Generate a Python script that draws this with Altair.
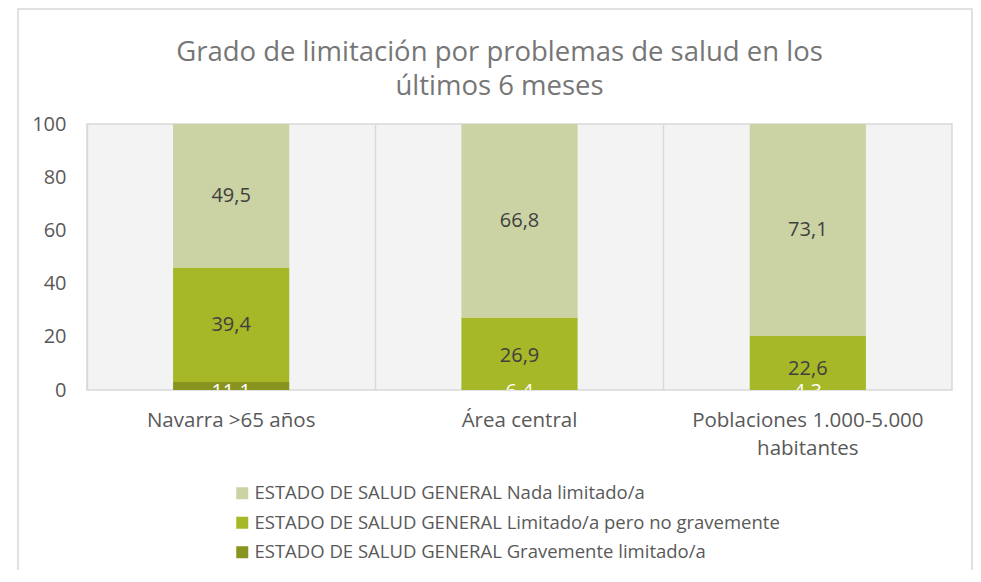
import altair as alt
import pandas as pd

# ---- data ----
categorias = ["Navarra >65 años", "Área central", "Poblaciones 1.000-5.000 habitantes"]
series = [
    "ESTADO DE SALUD GENERAL Nada limitado/a",
    "ESTADO DE SALUD GENERAL Limitado/a pero no gravemente",
    "ESTADO DE SALUD GENERAL Gravemente limitado/a",
]
nada = [49.5, 66.8, 73.1]
limitado = [39.4, 26.9, 22.6]
grave = [11.1, 6.4, 4.3]
y_ticks = [0, 20, 40, 60, 80, 100]
colores = ["#cbd3a4", "#a6b728", "#899420"]

rows = []
for i, c in enumerate(categorias):
    for s, vals, o in [(series[2], grave, 1), (series[1], limitado, 2), (series[0], nada, 3)]:
        rows.append(dict(cat=c, serie=s, valor=vals[i], orden=o,
                         etiqueta=f"{vals[i]:.1f}".replace(".", ",")))
df = pd.DataFrame(rows)

FONT = "Open Sans"
GRID = "#d9d9d9"
TXT = "#595959"

# the reference plot area is cut off near the bottom: bars scale starts above zero
ybar = alt.Scale(domain=[8.3, 100], zero=False, nice=False)

x_enc = alt.X(
    "cat:N", sort=categorias,
    scale=alt.Scale(paddingInner=0, paddingOuter=0),
    axis=alt.Axis(title=None, labelAngle=0, labelFontSize=20.5, labelColor=TXT, labelFont=FONT,
                  labelPadding=20, ticks=False, tickSize=0, domain=False, grid=True,
                  gridColor=GRID, gridWidth=1.5, bandPosition=0, labelLimit=400,
                  labelLineHeight=28,
                  labelExpr="datum.value == 'Poblaciones 1.000-5.000 habitantes' ? "
                            "['Poblaciones 1.000-5.000', 'habitantes'] : datum.value"),
)

base = alt.Chart(df).transform_stack(
    stack="valor", as_=["y0", "y1"], groupby=["cat"],
    sort=[alt.SortField("orden", order="ascending")],
).transform_calculate(mid="(datum.y0 + datum.y1) / 2")

bars = base.mark_bar(width=alt.RelativeBandSize(0.403), clip=True).encode(
    x=x_enc,
    y=alt.Y("y0:Q", scale=ybar,
            axis=alt.Axis(title=None, labels=False, ticks=False, domain=False, grid=True,
                          values=[20, 40, 60, 80], gridColor=GRID, gridWidth=1.5)),
    y2="y1:Q",
    color=alt.Color("serie:N", scale=alt.Scale(domain=series, range=colores),
                    legend=alt.Legend(title=None, orient="none", legendX=146, legendY=360,
                                      symbolType="square", symbolSize=144, symbolStrokeWidth=0,
                                      labelFontSize=18.5, labelFont=FONT, labelColor=TXT,
                                      labelLimit=700, rowPadding=10.5, labelOffset=3,
                                      direction="vertical")),
)

txt_main = base.transform_filter("datum.orden > 1").mark_text(
    clip=True, fontSize=20, font=FONT, color="#404040"
).encode(
    x=alt.X("cat:N", sort=categorias),
    y=alt.Y("mid:Q", scale=ybar, axis=None),
    text="etiqueta:N",
)

# labels of the bottom segment sit at the (cut-off) base of each bar
txt_dark = base.transform_filter("datum.orden == 1").mark_text(
    clip=True, fontSize=20, font=FONT, color="white", dy=-22
).encode(
    x=alt.X("cat:N", sort=categorias),
    y=alt.Y("y0:Q", scale=ybar, axis=None),
    text="etiqueta:N",
)

border = alt.Chart(pd.DataFrame({"a": [0]})).mark_rect(
    fillOpacity=0, stroke=GRID, strokeWidth=1.5, clip=False
).encode(x=alt.value(-69), x2=alt.value(885), y=alt.value(-115), y2=alt.value(470))

axis_layer = alt.Chart(df).mark_point(opacity=0).encode(
    y=alt.Y("valor:Q", scale=alt.Scale(domain=[0, 100], nice=False),
            axis=alt.Axis(orient="left", title=None, values=y_ticks, labelFontSize=20,
                          labelColor=TXT, labelFont=FONT, labelPadding=21, ticks=False,
                          tickSize=0, domain=False, grid=False))
)

chart = alt.layer(
    alt.layer(border, bars, txt_main, txt_dark),
    axis_layer,
).resolve_scale(y="independent").properties(
    width=865, height=266,
    autosize="none",
    padding={"left": 79, "top": 116, "right": 21, "bottom": 180},
    title=alt.TitleParams(
        text=["Grado de limitación por problemas de salud en los", "últimos 6 meses"],
        fontSize=27.5, font=FONT, color="#767676", fontWeight="normal",
        anchor="middle", dx=-20, dy=112, offset=20, lineHeight=34,
    ),
).configure_view(stroke=GRID, strokeWidth=1.5, fill="#f3f3f3")

chart.save("out.html", embed_options={"renderer": "svg", "actions": False})
